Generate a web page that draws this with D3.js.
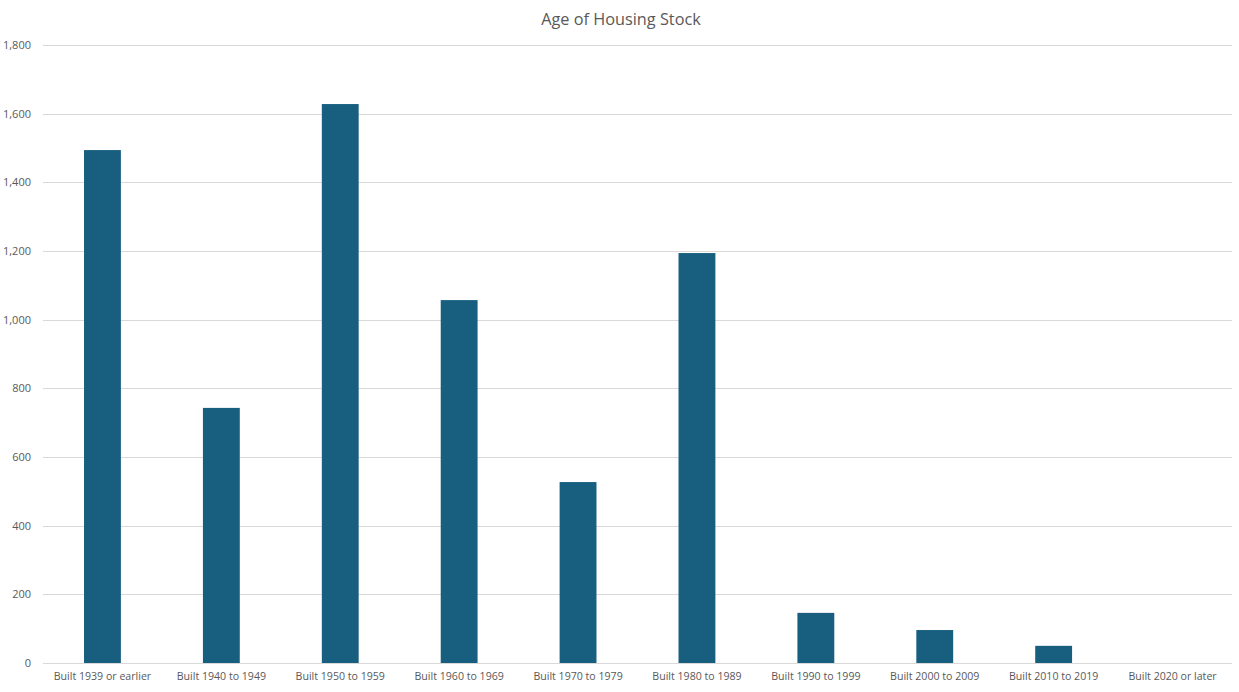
<!DOCTYPE html>
<html>
<head>
<meta charset="utf-8">
<script src="https://cdn.jsdelivr.net/npm/d3@7"></script>
<style>
  html, body { margin: 0; padding: 0; background: #fff; }
  svg { display: block; }
  text { font-family: "Open Sans", "Noto Sans", sans-serif; fill: #595959; }
</style>
</head>
<body>
<svg id="chart" width="1239" height="692"></svg>
<script>
const categories = [
  "Built 1939 or earlier", "Built 1940 to 1949", "Built 1950 to 1959",
  "Built 1960 to 1969", "Built 1970 to 1979", "Built 1980 to 1989",
  "Built 1990 to 1999", "Built 2000 to 2009", "Built 2010 to 2019",
  "Built 2020 or later"
];
const values = [1494, 743, 1628, 1057, 527, 1194, 146, 96, 50, 0];
const yTicks = [0, 200, 400, 600, 800, 1000, 1200, 1400, 1600, 1800];
const title = "Age of Housing Stock";

const svg = d3.select("#chart");
const W = 1239, H = 692;
const margin = { left: 43, right: 7, top: 45, bottom: 29 };

const x = d3.scaleBand()
  .domain(categories)
  .range([margin.left, W - margin.right])
  .paddingInner(0.69)
  .paddingOuter(0.345);

const y = d3.scaleLinear()
  .domain([0, 1800])
  .range([H - margin.bottom, margin.top]);

// gridlines
svg.append("g")
  .selectAll("line")
  .data(yTicks)
  .join("line")
  .attr("x1", margin.left)
  .attr("x2", W - margin.right)
  .attr("y1", d => Math.round(y(d)) + 0.5)
  .attr("y2", d => Math.round(y(d)) + 0.5)
  .attr("stroke", "#d9d9d9")
  .attr("stroke-width", 1);

// y axis labels
const yAxis = d3.axisLeft(y).tickValues(yTicks).tickSize(0).tickPadding(12)
  .tickFormat(d3.format(","));
svg.append("g")
  .attr("transform", `translate(${margin.left},0)`)
  .call(yAxis)
  .call(g => g.select(".domain").remove())
  .selectAll("text")
  .attr("font-size", 11)
  .style("font-family", "\"Open Sans\", sans-serif")
  .attr("fill", "#595959");

// bars
svg.append("g")
  .selectAll("rect")
  .data(values)
  .join("rect")
  .attr("x", (d, i) => x(categories[i]))
  .attr("width", x.bandwidth())
  .attr("y", d => y(d))
  .attr("height", d => y(0) - y(d))
  .attr("fill", "#175E7F");

// x axis labels
const xAxis = d3.axisBottom(x).tickSize(0).tickPadding(9);
svg.append("g")
  .attr("transform", `translate(0,${y(0)})`)
  .call(xAxis)
  .call(g => g.select(".domain").remove())
  .selectAll("text")
  .attr("font-size", 10.6)
  .style("font-family", "\"Open Sans\", sans-serif")
  .attr("fill", "#595959");

// title
svg.append("text")
  .attr("x", 621)
  .attr("y", 25)
  .attr("text-anchor", "middle")
  .attr("font-size", 16.3)
  .attr("fill", "#595959")
  .text(title);
</script>
</body>
</html>
